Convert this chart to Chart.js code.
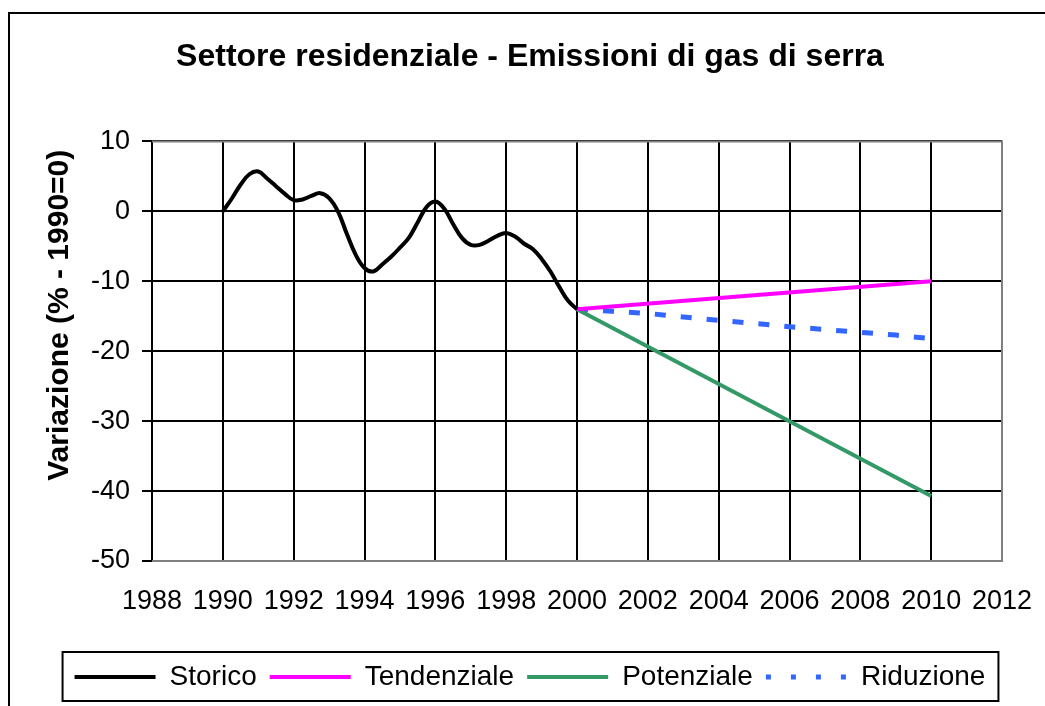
<!DOCTYPE html>
<html>
<head>
<meta charset="utf-8">
<script src="https://cdn.jsdelivr.net/npm/chart.js@4/dist/chart.umd.min.js"></script>
<style>
  body { margin: 0; background: #fff; }
  #wrap { width: 1045px; height: 706px; }
</style>
</head>
<body>
<div id="wrap"><canvas id="chart" width="1045" height="706"></canvas></div>
<script>
// storico: quarterly readings 1990-2000
const storicoYears = [1990, 1990.25, 1990.5, 1990.75, 1991, 1991.25, 1991.5, 1991.75,
    1992, 1992.25, 1992.5, 1992.75, 1993, 1993.25, 1993.5, 1993.75,
    1994, 1994.25, 1994.5, 1994.75, 1995, 1995.25, 1995.5, 1995.75,
    1996, 1996.25, 1996.5, 1996.75, 1997, 1997.25, 1997.5, 1997.75,
    1998, 1998.25, 1998.5, 1998.75, 1999, 1999.25, 1999.5, 1999.75, 2000];
const storico = [0, 1.8, 3.8, 5.3, 5.7, 4.7, 3.6, 2.5,
    1.6, 1.7, 2.2, 2.6, 1.9, 0, -3.2, -6.2,
    -8.1, -8.6, -7.6, -6.5, -5.2, -3.8, -1.6, 0.6,
    1.4, 0.4, -1.8, -3.8, -4.8, -4.8, -4.2, -3.5,
    -3.1, -3.6, -4.6, -5.4, -6.8, -8.6, -10.8, -12.8, -14];

const scenarioYears = [2000, 2010];
const tendenziale = [-14, -10];
const potenziale = [-14, -40.7];

const riduzioneYears = [2000, 2001, 2002, 2003, 2004, 2005, 2006, 2007, 2008, 2009, 2010];
const riduzione = [-14, -14.3, -14.6, -15.1, -15.6, -16.0, -16.5, -16.9, -17.3, -17.7, -18.2];

const xTicks = { min: 1988, max: 2012, step: 2 };
const yTicks = { min: -50, max: 10, step: 10 };

const FONT = '"Liberation Sans", Arial, sans-serif';

function pairs(xs, ys) {
    return xs.map(function (x, i) { return { x: x, y: ys[i] }; });
}

// frame round the whole chart and a box round the legend
const framePlugin = {
    id: 'frame',
    beforeDraw: function (chart) {
        const ctx = chart.ctx;
        ctx.save();
        ctx.fillStyle = '#fff';
        ctx.fillRect(0, 0, chart.width, chart.height);
        ctx.strokeStyle = '#000';
        ctx.lineWidth = 2;
        ctx.strokeRect(9, 13, chart.width + 20, chart.height + 20);
        ctx.restore();
    },
    afterDraw: function (chart) {
        const ctx = chart.ctx;
        const a = chart.chartArea;
        ctx.save();
        // grey plot border on top / right / bottom
        ctx.strokeStyle = '#808080';
        ctx.lineWidth = 2;
        ctx.beginPath();
        ctx.moveTo(a.left, a.top);
        ctx.lineTo(a.right, a.top);
        ctx.lineTo(a.right, a.bottom);
        ctx.lineTo(a.left, a.bottom);
        ctx.stroke();
        // legend box
        const hb = chart.legend.legendHitBoxes;
        if (hb && hb.length) {
            const first = hb[0], last = hb[hb.length - 1];
            const cy = first.top + first.height / 2;
            ctx.strokeStyle = '#000';
            ctx.lineWidth = 2;
            ctx.strokeRect(first.left - 12, cy - 25, last.left + last.width + 13 - (first.left - 12), 49);
        }
        ctx.restore();
    }
};

const data = {
    datasets: [{
        label: 'Storico',
        data: pairs(storicoYears, storico),
        borderColor: '#000000',
        borderWidth: 4,
        tension: 0.4,
        pointRadius: 0
    }, {
        label: 'Tendenziale',
        data: pairs(scenarioYears, tendenziale),
        borderColor: '#FF00FF',
        borderWidth: 4,
        pointRadius: 0
    }, {
        label: 'Potenziale',
        data: pairs(scenarioYears, potenziale),
        borderColor: '#339966',
        borderWidth: 4,
        pointRadius: 0
    }, {
        label: 'Riduzione',
        data: pairs(riduzioneYears, riduzione),
        borderColor: '#3366FF',
        borderWidth: 5,
        borderDash: [11, 15],
        pointRadius: 0
    }]
};

const config = {
    type: 'line',
    data: data,
    plugins: [framePlugin],
    options: {
        responsive: false,
        animation: false,
        devicePixelRatio: 1,
        layout: { padding: { left: 58, right: 43, top: 0, bottom: 5 } },
        plugins: {
            title: {
                display: true,
                text: 'Settore residenziale - Emissioni di gas di serra',
                color: '#000',
                font: { family: FONT, size: 32, weight: 'bold' },
                padding: { top: 38, bottom: 65 }
            },
            legend: {
                display: true,
                position: 'bottom',
                labels: {
                    color: '#000',
                    font: { family: FONT, size: 28 },
                    usePointStyle: true,
                    pointStyle: 'line',
                    pointStyleWidth: 81,
                    padding: 13,
                    generateLabels: function (chart) {
                        const items = Chart.defaults.plugins.legend.labels.generateLabels(chart);
                        items.forEach(function (item) {
                            const ds = chart.data.datasets[item.datasetIndex];
                            item.lineWidth = ds.borderWidth;
                            item.lineDash = ds.borderDash ? [5, 20] : [];
                        });
                        return items;
                    }
                }
            },
            tooltip: { enabled: false }
        },
        scales: {
            x: {
                type: 'linear',
                min: xTicks.min,
                max: xTicks.max,
                afterFit: function (scale) {
                    scale.height = 89;
                    scale.paddingRight = 0;
                },
                ticks: {
                    stepSize: xTicks.step,
                    color: '#000',
                    font: { family: FONT, size: 27 },
                    padding: 24,
                    maxRotation: 0,
                    callback: function (v) { return String(v); }
                },
                grid: {
                    color: function (c) { return c.index === 12 ? '#808080' : '#000'; },
                    lineWidth: 2,
                    drawTicks: false
                },
                border: { color: '#808080', width: 2 }
            },
            y: {
                min: yTicks.min,
                max: yTicks.max,
                afterFit: function (scale) { scale.width = 94; },
                ticks: {
                    stepSize: yTicks.step,
                    color: '#000',
                    font: { family: FONT, size: 27 },
                    padding: 12
                },
                grid: {
                    color: '#000',
                    lineWidth: 2,
                    tickLength: 10
                },
                border: { color: '#000', width: 2 },
                title: {
                    display: true,
                    text: 'Variazione (% - 1990=0) ',
                    align: 'end',
                    color: '#000',
                    font: { family: FONT, size: 30, weight: 'bold' },
                    padding: { top: -16 }
                }
            }
        }
    }
};

new Chart(document.getElementById('chart'), config);
</script>
</body>
</html>
